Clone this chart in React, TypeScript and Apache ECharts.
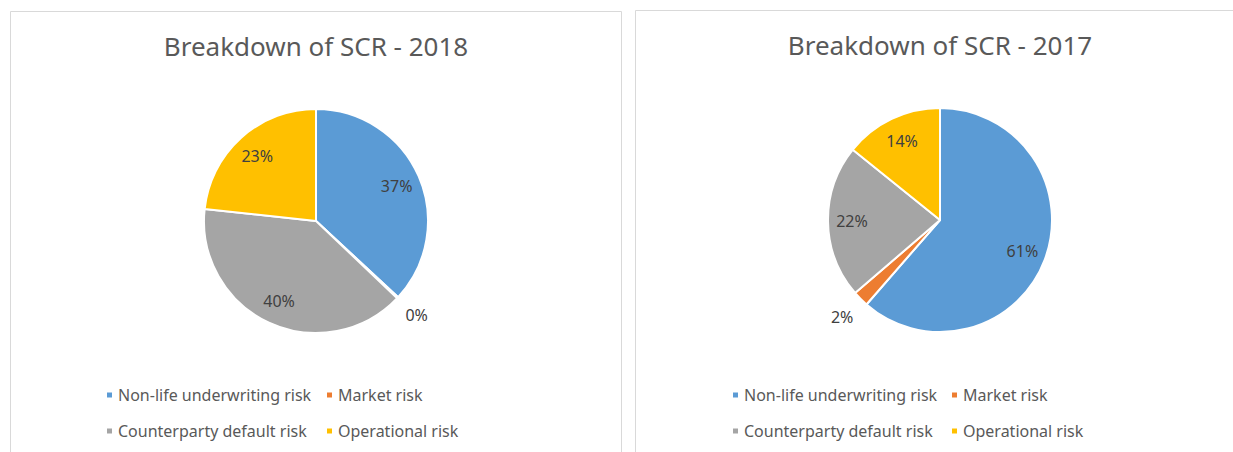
import React, { useEffect, useRef } from "react";
import * as echarts from "echarts";

const categories = ["Non-life underwriting risk", "Market risk", "Counterparty default risk", "Operational risk"];
const values2018 = [36.9, 0.2, 39.6, 23.3];
const values2017 = [61.4, 2.3, 22.1, 14.2];
const titles = ["Breakdown of SCR - 2018", "Breakdown of SCR - 2017"];
const colors = ["#5B9BD5", "#ED7D31", "#A5A5A5", "#FFC000"];
const FONT = "Noto Sans";

function buildSeries(values: number[], center: number[]) {
  const pct = (p: any) => Math.round(p.percent) + "%";
  const isSmall = (v: number) => v < 5;
  const labelStyle = { fontSize: 16, color: "#404040", fontFamily: FONT };
  return [
    {
      type: "pie",
      center,
      radius: [0, 112],
      startAngle: 90,
      clockwise: true,
      avoidLabelOverlap: false,
      percentPrecision: 1,
      label: { show: false },
      labelLine: { show: false },
      emphasis: { disabled: true },
      itemStyle: { borderColor: "#ffffff", borderWidth: 2 },
      data: categories.map((name, i) => ({ name, value: values[i], itemStyle: { color: colors[i] } })),
    },
    {
      type: "pie",
      center,
      radius: [0, 170],
      startAngle: 90,
      silent: true,
      avoidLabelOverlap: false,
      percentPrecision: 1,
      labelLine: { show: false },
      emphasis: { disabled: true },
      itemStyle: { color: "rgba(0,0,0,0)", borderWidth: 0 },
      label: { show: true, position: "inside", formatter: pct, ...labelStyle },
      data: categories.map((name, i) => ({ name, value: values[i], label: { show: !isSmall(values[i]) } })),
    },
    {
      type: "pie",
      center,
      radius: [100, 170],
      startAngle: 90,
      silent: true,
      avoidLabelOverlap: false,
      percentPrecision: 1,
      labelLine: { show: false },
      emphasis: { disabled: true },
      itemStyle: { color: "rgba(0,0,0,0)", borderWidth: 0 },
      label: { show: true, position: "inside", formatter: pct, ...labelStyle },
      data: categories.map((name, i) => ({ name, value: values[i], label: { show: isSmall(values[i]) } })),
    },
  ];
}

function legendsFor(col1: number, col2: number) {
  const pos = [
    [col1, 385],
    [col2, 385],
    [col1, 421],
    [col2, 421],
  ];
  return categories.map((name, i) => ({
    data: [{ name, icon: "rect", itemStyle: { color: colors[i] } }],
    left: pos[i][0],
    top: pos[i][1],
    padding: 0,
    itemWidth: 7,
    itemHeight: 7,
    selectedMode: false,
    textStyle: { fontSize: 16, color: "#595959", fontFamily: FONT, lineHeight: 20 },
  }));
}

export default function App() {
  const ref = useRef<HTMLDivElement>(null);
  useEffect(() => {
    if (!ref.current) return;
    const chart = echarts.init(ref.current, null, { renderer: "svg" });
    chart.setOption({
      animation: false,
      backgroundColor: "#ffffff",
      legend: [...legendsFor(105, 325), ...legendsFor(731, 950)],
      graphic: [
        { type: "rect", shape: { x: 10.5, y: 11.5, width: 611, height: 460 }, style: { fill: "none", stroke: "#d9d9d9", lineWidth: 1 }, silent: true },
        { type: "rect", shape: { x: 635.5, y: 10.5, width: 620, height: 460 }, style: { fill: "none", stroke: "#d9d9d9", lineWidth: 1 }, silent: true },
        { type: "text", x: 316, y: 46, style: { text: titles[0], align: "center", verticalAlign: "middle", fontSize: 26, fill: "#595959", fontFamily: FONT } },
        { type: "text", x: 940, y: 45, style: { text: titles[1], align: "center", verticalAlign: "middle", fontSize: 26, fill: "#595959", fontFamily: FONT } },
      ],
      series: [...buildSeries(values2018, [316, 221]), ...buildSeries(values2017, [940, 220])],
    });
    return () => chart.dispose();
  }, []);
  return <div ref={ref} style={{ position: "absolute", left: 0, top: 0, width: 1233, height: 452 }} />;
}
